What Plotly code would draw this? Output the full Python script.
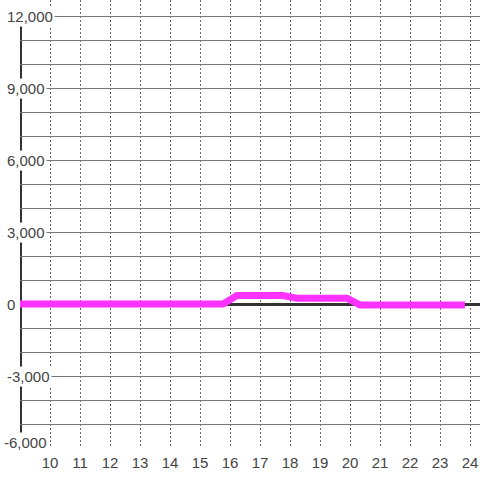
import plotly.graph_objects as go

# data
hours = [9, 15.77, 16.23, 17.77, 18.23, 19.9, 20.33, 23.83]
values = [0, 0, 350, 350, 240, 240, -40, -40]

x_ticks = list(range(10, 25))
y_label_vals = [12000, 9000, 6000, 3000, 0, -3000, -6000]

LINE_COLOR = "#ff33ff"
AXIS_COLOR = "#333333"
FONT = "Liberation Sans, Arial, sans-serif"

fig = go.Figure()

fig.add_trace(
    go.Scatter(
        x=hours,
        y=values,
        mode="lines",
        line=dict(color=LINE_COLOR, width=7),
        hoverinfo="skip",
        showlegend=False,
    )
)

# thick left axis line, only over the labelled range
fig.add_shape(
    type="line",
    xref="x",
    yref="y",
    x0=9,
    x1=9,
    y0=-6000,
    y1=12000,
    line=dict(color=AXIS_COLOR, width=4),
    layer="below",
)

# y labels sit inside the plot on a white box; the lowest one is nudged up
y_min = min(y_label_vals)
for v in y_label_vals:
    fig.add_annotation(
        xref="paper",
        yref="y",
        x=0,
        y=v,
        xshift=-18 if v == y_min else -15,
        yshift=6 if v == y_min else 0,
        text=f"{v:,}",
        showarrow=False,
        xanchor="left",
        yanchor="middle",
        bgcolor="white",
        borderpad=1,
        font=dict(size=15, color="#444444", family=FONT),
    )

fig.update_layout(
    width=480,
    height=480,
    margin=dict(l=20, r=0, t=0, b=32),
    paper_bgcolor="white",
    plot_bgcolor="white",
    font=dict(family=FONT, size=15, color="#444444"),
    showlegend=False,
    xaxis=dict(
        range=[9, 24.333],
        tickvals=x_ticks,
        ticktext=[str(t) for t in x_ticks],
        showgrid=True,
        gridcolor="#666666",
        gridwidth=1,
        griddash="2px,2px",
        zeroline=False,
        showline=False,
        ticks="outside",
        ticklen=1,
        tickcolor="rgba(0,0,0,0)",
        tickfont=dict(size=15, color="#444444", family=FONT),
    ),
    yaxis=dict(
        range=[-6000, 12667],
        dtick=1000,
        tick0=0,
        showgrid=True,
        gridcolor="#777777",
        gridwidth=1,
        zeroline=True,
        zerolinecolor=AXIS_COLOR,
        zerolinewidth=3,
        showline=False,
        showticklabels=False,
        ticks="",
    ),
)

fig.write_html(
    "out.html",
    config={"displayModeBar": False},
    post_script="document.body.style.margin='0';",
)
